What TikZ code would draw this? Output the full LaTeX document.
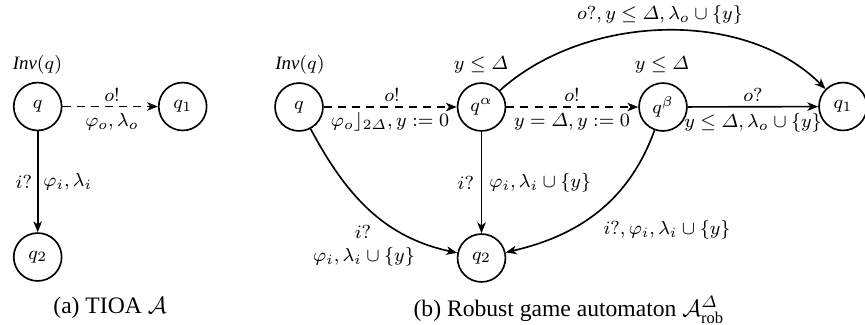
\documentclass[tikz,border=0pt]{standalone}
\usepackage{amsmath}
\usepackage{fontspec}
\setmainfont{Liberation Serif}
\usetikzlibrary{arrows.meta}
\begin{document}
\begin{tikzpicture}[x=0.4237pt,y=0.4237pt,
  st/.style={circle,draw,line width=0.7pt,minimum size=20.3pt,inner sep=0pt,font=\footnotesize},
  lb/.style={inner sep=0pt,font=\footnotesize},
  tr/.style={line width=0.7pt,-{Stealth[length=4.6pt,width=3.6pt,inset=1.3pt]}},
  dtr/.style={tr,dash pattern=on 3.4pt off 2.6pt},
  captext/.style={inner sep=0pt,font=\normalsize}]
\useasboundingbox (0,0) rectangle (865,-324);
% (a)
\node[st] (aq) at (37.7,-106.5) {$q$};
\node[st] (aq1) at (182.7,-106.5) {$q_1$};
\node[st] (aq2) at (37.7,-257) {$q_2$};
\node[lb] (ainv) at (37.5,-65) {\textit{Inv}$(q)$};
\draw[dtr] (aq) -- (aq1);
\node[lb] (ao) at (112,-95) {$o!$};
\node[lb] (aphio) at (112,-122) {$\varphi_o,\lambda_o$};
\draw[tr] (aq) -- (aq2);
\node[lb,anchor=east] (ai) at (32.5,-182) {$i?$};
\node[lb,anchor=west] (aphii) at (43,-182) {$\varphi_i,\lambda_i$};
\node[captext] (capa) at (110,-308) {(a) TIOA $\mathcal{A}$};
% (b)
\node[st] (bq) at (299,-107) {$q$};
\node[st] (bqa) at (481.5,-107) {$q^{\alpha}$};
\node[st] (bqb) at (663,-107) {$q^{\beta}$};
\node[st] (bq1) at (843,-106.5) {$q_1$};
\node[st] (bq2) at (481.5,-258) {$q_2$};
\node[lb] (binv) at (300,-65) {\textit{Inv}$(q)$};
\node[lb] (binva) at (481,-65) {$y\le\varDelta$};
\node[lb] (binvb) at (662,-65) {$y\le\varDelta$};
\draw[dtr] (bq) -- (bqa);
\node[lb] (bo1) at (392,-95) {$o!$};
\node[lb] (bphio) at (390,-122) {$\varphi_o\rfloor_{2\varDelta},y:=0$};
\draw[dtr] (bqa) -- (bqb);
\node[lb] (bo2) at (572,-95) {$o!$};
\node[lb] (bydel) at (572,-122) {$y=\varDelta,y:=0$};
\draw[tr] (bqb) -- (bq1);
\node[lb] (bo3) at (753,-95) {$o?$};
\node[lb] (bylam) at (753,-123) {$y\le\varDelta,\lambda_o\cup\{y\}$};
\draw[tr] (bqa) to[out=42,in=135,looseness=0.9] (bq1);
\node[lb] (btop) at (660,-15) {$o?,y\le\varDelta,\lambda_o\cup\{y\}$};
\draw[tr] (bqa) -- (bq2);
\node[lb,anchor=east] (bi1) at (474.5,-183) {$i?$};
\node[lb,anchor=west] (bphi1) at (489,-183) {$\varphi_i,\lambda_i\cup\{y\}$};
\draw[tr] (bq) to[out=-62,in=168] (bq2);
\node[lb] (bi2) at (363,-232) {$i?$};
\node[lb] (bphi2) at (364,-257) {$\varphi_i,\lambda_i\cup\{y\}$};
\draw[tr] (bqb) to[out=-110,in=13] (bq2);
\node[lb] (bphi3) at (667,-230) {$i?,\varphi_i,\lambda_i\cup\{y\}$};
\node[captext] (capb) at (569,-310) {(b) Robust game automaton $\mathcal{A}^{\varDelta}_{\mathrm{rob}}$};
\end{tikzpicture}
\end{document}
